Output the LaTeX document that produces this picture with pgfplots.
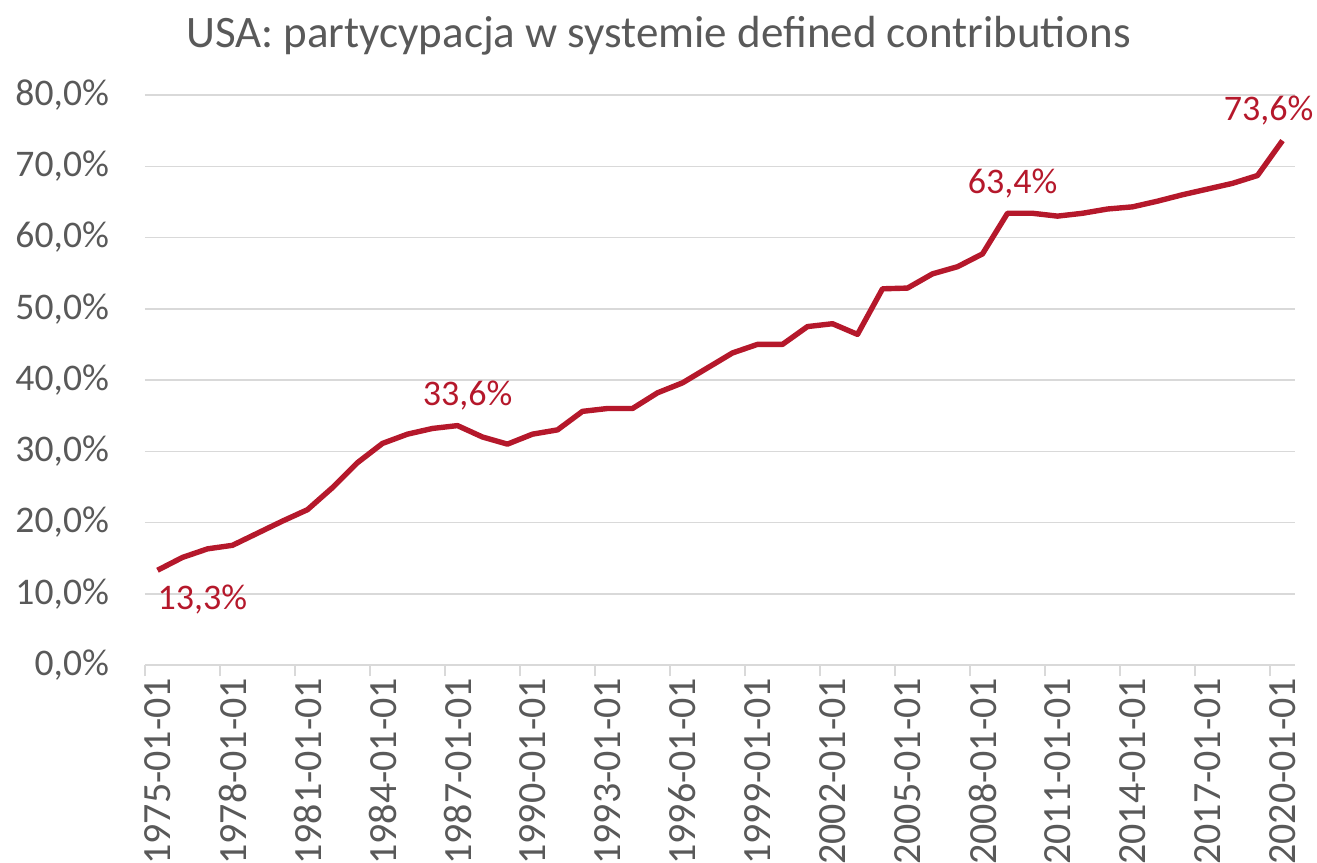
\documentclass[border=0pt]{standalone}
\usepackage{pgfplots}
\pgfplotsset{compat=1.18}
\usepackage{fontspec}
\setmainfont{Carlito}
\definecolor{txtgray}{RGB}{89,89,89}
\definecolor{gridgray}{RGB}{217,217,217}
\definecolor{linered}{RGB}{181,24,43}
\begin{document}
\begin{tikzpicture}[x=1pt,y=1pt]
\begin{axis}[
  scale only axis,
  width=575pt, height=285pt,
  xmin=-0.5, xmax=45.5,
  ymin=0, ymax=80,
  ytick={0,10,...,80},
  yticklabel={\pgfmathprintnumber[fixed,fixed zerofill,precision=1,use comma]{\tick}\%},
  /pgf/number format/assume math mode=true,
  xtick={0,3,...,45},
  xticklabels={1975-01-01,1978-01-01,1981-01-01,1984-01-01,1987-01-01,1990-01-01,1993-01-01,1996-01-01,1999-01-01,2002-01-01,2005-01-01,2008-01-01,2011-01-01,2014-01-01,2017-01-01,2020-01-01},
  x tick label style={rotate=90, anchor=east, font=\fontsize{20}{22}\selectfont, text=txtgray},
  y tick label style={font=\fontsize{18.8}{21}\selectfont, text=txtgray},
  xticklabel shift=3pt,
  yticklabel shift=14.5pt,
  major tick length=0pt,
  extra x ticks={-0.5,2.5,...,44.5},
  extra x tick labels={},
  extra x tick style={major tick length=5.5pt, tick pos=bottom, tick align=outside, tick style={gridgray, line width=0.75pt}, grid=none},
  axis x line*=bottom,
  axis y line*=left,
  y axis line style={draw=none},
  x axis line style={gridgray, line width=0.75pt, -},
  ymajorgrids,
  grid style={gridgray, line width=0.75pt},
  title={USA: partycypacja w systemie defined contributions},
  title style={font=\fontsize{22.5}{26}\selectfont, text=txtgray, at={(0.4465,1)}, anchor=south, yshift=10.5pt},
  clip=false,
  every node near coord/.append style={font=\fontsize{18}{20}\selectfont, text=linered},
]
\addplot[linered, line width=2.7pt, line join=round] coordinates {
(0,13.3)(1,15.1)(2,16.3)(3,16.8)(4,18.5)(5,20.2)(6,21.8)(7,24.9)(8,28.4)(9,31.1)
(10,32.4)(11,33.2)(12,33.6)(13,32.0)(14,31.0)(15,32.4)(16,33.0)(17,35.6)(18,36.0)(19,36.0)
(20,38.2)(21,39.6)(22,41.7)(23,43.8)(24,45.0)(25,45.0)(26,47.5)(27,47.9)(28,46.4)(29,52.8)
(30,52.9)(31,54.9)(32,55.9)(33,57.7)(34,63.4)(35,63.4)(36,63.0)(37,63.4)(38,64.0)(39,64.3)
(40,65.1)(41,66.0)(42,66.8)(43,67.6)(44,68.7)(45,73.6)};
\addplot[draw=none, mark=none, nodes near coords={13,3\%}, every node near coord/.append style={anchor=north west, xshift=-3.5pt, yshift=-4pt}] coordinates {(0,13.3)};
\addplot[draw=none, mark=none, nodes near coords={33,6\%}, every node near coord/.append style={anchor=south, xshift=5pt, yshift=4pt}] coordinates {(12,33.6)};
\addplot[draw=none, mark=none, nodes near coords={63,4\%}, every node near coord/.append style={anchor=south, xshift=2.5pt, yshift=4pt}] coordinates {(34,63.4)};
\addplot[draw=none, mark=none, nodes near coords={73,6\%}, every node near coord/.append style={anchor=south, xshift=-7pt, yshift=4pt}] coordinates {(45,73.6)};
\end{axis}
\pgfresetboundingbox
\path ([xshift=-72.5pt,yshift=-98.5pt]current axis.south west) rectangle ([xshift=11pt,yshift=47.5pt]current axis.north east);
\end{tikzpicture}
\end{document}
